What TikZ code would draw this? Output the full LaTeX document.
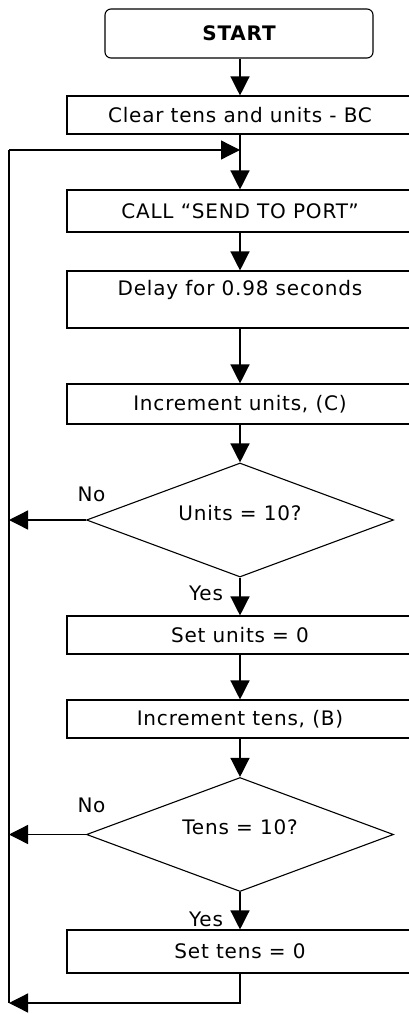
\documentclass[tikz,border=0pt]{standalone}
\usepackage{fontspec}
\setmainfont{DejaVu Sans}[LetterSpace=4]
\usetikzlibrary{arrows.meta,shapes.geometric}
\begin{document}
\begin{tikzpicture}[x=1pt,y=-1pt,
  every node/.style={font=\fontsize{20}{24}\selectfont},
  procbox/.style={draw,line width=1.1pt,rectangle,minimum width=346pt,inner sep=0pt},
  decbox/.style={draw,line width=1.1pt,diamond,shape aspect=2.7,minimum width=307pt,minimum height=114pt,inner sep=0pt,text height=10pt,text depth=10pt},
  flow/.style={line width=1.3pt,-{Triangle[length=19pt,width=19pt]}},
  loopline/.style={line width=1.7pt},
  lbl/.style={inner sep=0pt}
]
\clip (0,0) rectangle (409,1014);
\fill[white] (0,0) rectangle (409,1014);

\node[draw,line width=1.1pt,rounded corners=6pt,minimum width=268pt,minimum height=49pt,inner sep=0pt,font=\fontsize{20}{24}\selectfont\bfseries] (start) at (239,33.5) {START};
\node[procbox,minimum height=38pt] (clear) at (240,115) {Clear tens and units - BC};
\node[procbox,minimum height=42pt] (call) at (240,211) {CALL “SEND TO PORT”};
\node[procbox,text height=24.7pt,text depth=32.3pt] (delay) at (240,299.5) {Delay for 0.98 seconds};
\node[procbox,minimum height=40pt] (incu) at (240,404) {Increment units, (C)};
\node[decbox] (d1) at (240,520) {Units = 10?};
\node[procbox,minimum height=38pt] (setu) at (240,635) {Set units = 0};
\node[procbox,minimum height=38pt] (inct) at (240,719) {Increment tens, (B)};
\node[decbox] (d2) at (240,834.5) {Tens = 10?};
\node[procbox,minimum height=43pt] (sett) at (240,951.5) {Set tens = 0};

\coordinate (lt) at (9,150);
\coordinate (lb) at (9,1003);
\coordinate (join) at (240,150);

\draw[flow] (start.south -| clear.north) -- (clear.north);
\draw[flow] (clear.south) -- (call.north);
\draw[flow] (call.south) -- (delay.north);
\draw[flow] (delay.south) -- (incu.north);
\draw[flow] (incu.south) -- (d1.north);
\draw[flow] (d1.south) -- (setu.north);
\draw[flow] (setu.south) -- (inct.north);
\draw[flow] (inct.south) -- (d2.north);
\draw[flow] (d2.south) -- (sett.north);
\draw[flow] (d1.west) -- (d1.west -| lt);
\draw[flow] (d2.west) -- (d2.west -| lt);
\draw[flow] (sett.south) |- (lb);
\draw[loopline] (lb) -- (lt);
\draw[flow] (lt) -- (join);

\node[lbl] (no1) at (91.5,494) {No};
\node[lbl] (yes1) at (206,593) {Yes};
\node[lbl] (no2) at (91.5,805) {No};
\node[lbl] (yes2) at (206,919.5) {Yes};
\end{tikzpicture}
\end{document}
